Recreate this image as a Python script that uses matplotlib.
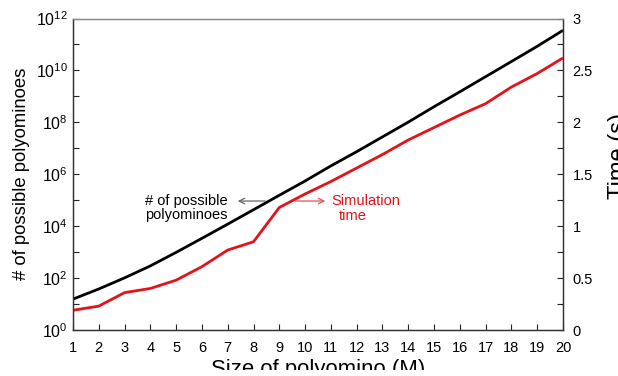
import numpy as np
import matplotlib
matplotlib.use("Agg")
import matplotlib.pyplot as plt
from matplotlib.ticker import FixedLocator, NullFormatter
from matplotlib.patches import Rectangle

plt.rcParams['font.family'] = ['Liberation Sans', 'DejaVu Sans']
plt.rcParams['mathtext.fontset'] = 'custom'
plt.rcParams['mathtext.rm'] = 'Liberation Sans'
plt.rcParams['mathtext.it'] = 'Liberation Sans'

# ------------------
# DATA
# ------------------
size_m = list(range(1, 21))
n_polyominoes = [15.5, 38, 102, 295, 980, 3.4e3, 1.2e4, 4.3e4, 1.55e5, 5.5e5,
                 2.1e6, 7.4e6, 2.75e7, 1.02e8, 4.0e8, 1.5e9, 5.75e9, 2.2e10,
                 8.5e10, 3.5e11]
sim_time = [0.19, 0.23, 0.36, 0.40, 0.48, 0.61, 0.77, 0.85, 1.18, 1.31,
            1.43, 1.56, 1.69, 1.83, 1.95, 2.07, 2.18, 2.34, 2.47, 2.62]

left_ticks = [10 ** k for k in range(0, 13, 2)]
left_labels = [r'$10^{%d}$' % k for k in range(0, 13, 2)]
left_minor = [10 ** k for k in range(1, 13, 2)]
right_ticks = [0, 0.5, 1, 1.5, 2, 2.5, 3]
right_labels = ['0', '0.5', '1', '1.5', '2', '2.5', '3']
right_minor = [0.25, 0.75, 1.25, 1.75, 2.25, 2.75]

red = '#e3131b'
W, H = 618, 376

# ------------------
# FIGURE
# ------------------
fig = plt.figure(figsize=(W / 100, H / 100), dpi=100)
ax = fig.add_axes([73 / W, 46 / H, 490 / W, 311.5 / H])
ax2 = ax.twinx()

ax.plot(size_m, n_polyominoes, color='black', lw=2, solid_capstyle='butt')
ax2.plot(size_m, sim_time, color=red, lw=2, solid_capstyle='butt')

ax.set_yscale('log')
ax.set_xlim(1, 20)
ax.set_ylim(1, 1e12)
ax2.set_ylim(0, 3)

ax.set_xticks(size_m)
ax.set_xticklabels([str(m) for m in size_m])
ax.set_yticks(left_ticks)
ax.set_yticklabels(left_labels)
ax.yaxis.set_minor_locator(FixedLocator(left_minor))
ax.yaxis.set_minor_formatter(NullFormatter())
ax2.set_yticks(right_ticks)
ax2.set_yticklabels(right_labels)
ax2.yaxis.set_minor_locator(FixedLocator(right_minor))

for a in (ax, ax2):
    a.tick_params(which='both', direction='in', length=4, width=0.8,
                  labelsize=10.5, color='#222222')
    for sp in a.spines.values():
        sp.set_linewidth(0.9)
        sp.set_color('#333333')
    a.spines['top'].set_color('#888888')
ax.tick_params(axis='x', pad=8)
ax.tick_params(axis='y', pad=4, labelsize=11.5)
ax2.tick_params(axis='y', pad=7)

ax.set_ylabel('# of possible polyominoes', fontsize=13.3, labelpad=4)
fig.text(608 / W, (H - 156) / H, 'Time (s)', fontsize=17, rotation=90,
         ha='left', va='center')
fig.text(318 / W, 1 / H, 'Size of polyomino (M)', fontsize=15.9,
         ha='center', va='baseline')

# annotations
ax.text(5.38, 4.8e4, '# of possible\npolyominoes', fontsize=10.5,
        ha='center', va='center', linespacing=1.0)
ax.annotate('', xy=(7.28, 9.3e4), xytext=(8.56, 9.3e4),
            arrowprops=dict(arrowstyle='->', color='#666666', lw=0.9))
ax.text(12.36, 9.3e4, 'Simulation', fontsize=10.5, color=red,
        ha='center', va='center')
ax.text(11.86, 2.5e4, 'time', fontsize=10.5, color=red,
        ha='center', va='center')
ax.annotate('', xy=(10.89, 9.3e4), xytext=(9.53, 9.3e4),
            arrowprops=dict(arrowstyle='->', color='#e05060', lw=0.9))

# page edge below the chart
fig.add_artist(Rectangle((0, 0), 1, 6 / H, transform=fig.transFigure,
                         facecolor='white', edgecolor='none', zorder=10))

fig.savefig('out.png', dpi=100)
